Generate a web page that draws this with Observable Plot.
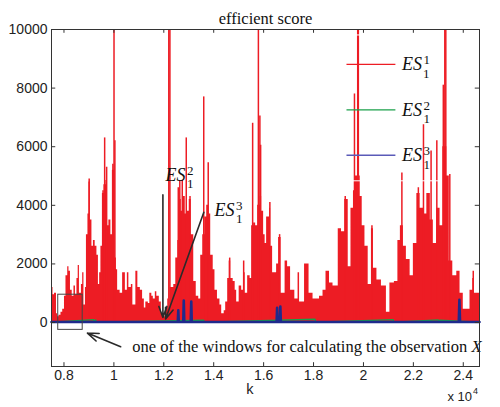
<!DOCTYPE html>
<html><head><meta charset="utf-8">
<script src="https://cdn.jsdelivr.net/npm/d3@7"></script>
<script src="https://cdn.jsdelivr.net/npm/@observablehq/plot@0.6"></script>
<style>body{margin:0;background:#fff}#chart svg{display:block}</style>
</head><body><div id="chart"></div>
<script>
// ES_1^1 envelope (k, value)
const envK = [7500,7560,7620,7700,7740,7800,7880,7950,8020,8080,
8150,8200,8260,8330,8400,8460,8520,8570,8620,8700,
8750,8800,8860,8900,8960,9000,9050,9120,9180,9250,
9320,9380,9430,9480,9540,9600,9680,9740,9800,9880,
9940,10040,10100,10150,10250,10350,10460,10540,10600,10700,
10760,10880,10960,11060,11150,11220,11280,11380,11440,11520,
11580,11660,11720,11820,11900,12000,12080,12150,12180,12260,
12400,12480,12560,12620,12700,12780,12860,12950,13020,13100,
13200,13300,13400,13480,13560,13640,13720,13800,13880,13980,
14050,14150,14250,14320,14420,14480,14560,14620,14680,14780,
14860,14920,15020,15120,15200,15260,15360,15460,15520,15600,
15680,15760,15860,15920,16000,16060,16120,16240,16280,16360,
16520,16600,16700,16860,16960,17080,17250,17380,17440,17640,
17820,17980,18240,18380,18500,18640,18780,18990,19120,19250,
19390,19500,19600,19680,19870,19950,20060,20190,20320,20400,
20540,20720,20920,21060,21240,21380,21480,21600,21720,21870,
22000,22140,22270,22430,22540,22680,22800,22940,23070,23180,
23340,23440,23580,23740,23870,24000,24270,24380,24420,24650];
const envV = [1200,950,1000,300,200,250,350,450,900,1600,
1900,1750,1100,900,1250,950,1500,1950,1000,1300,
1700,600,1200,3000,3700,4800,3500,2600,2800,2600,
2300,1300,1700,2600,4400,4700,4850,3300,3500,3000,
5200,2200,1800,1100,1000,1700,1100,1700,1200,1300,
600,1750,1200,1100,800,500,700,650,1000,900,
800,1050,900,700,300,200,450,800,500,1200,
1300,2200,2800,4200,3800,4300,3700,3800,4200,3000,
1400,900,800,2300,3000,3600,4000,3700,2300,1800,
1100,800,600,300,400,700,1500,2100,1500,1400,
1100,700,1250,1100,1700,1000,1600,1500,3300,3400,
3300,4000,4300,3800,3000,2700,3600,3900,2600,1700,
2000,2900,1000,2100,1900,1100,800,1700,700,2000,
1000,800,900,1100,1750,1350,1250,3200,3100,4200,
1900,3900,4500,5000,4300,3300,2600,1300,3200,1850,
1450,1250,350,1350,1400,2800,3300,2600,2150,1600,
2700,4400,3900,3700,4400,3500,2700,3900,3300,6000,
5000,2100,1600,1750,1000,450,1100,1500,1000,1000];
// ES_1^1 isolated spikes
const spikeK = [9010,9565,9630,9710,9960,10005,10040,12200,12245,12580,12640,12740,12900,13050,13600,13780,14640,15200,15560,15790,15850,15880,16250,16640,19270,19640,19770,19795,20340,21540,22200,22405,22710,22940,23200,23260,23300,23460,24400];
const spikeV = [4900,4500,6300,5300,5400,12000,6200,12000,12000,4600,4850,4850,6300,4300,7700,5450,2200,2100,6800,12000,7050,6050,4100,3000,4300,7800,12000,12000,3300,5100,4600,6750,5850,6200,8100,12000,12000,5050,1750];
// ES_1^2
const greenK = [7500,9190,9210,9270,9290,13600,13620,18060,18090,21190,21220,23000,23030,23060,24650];
const greenV = [10,100,10,90,10,80,10,110,10,100,10,90,10,80,10];
// ES_1^3
const blueK = [7500,12560,12580,12600,12780,12800,12820,13080,13100,13120,16520,16540,16560,16650,16670,16690,23820,23845,23870,24650];
const blueV = [20,20,420,20,20,750,20,20,720,20,20,500,20,20,550,20,20,780,20,20];

const xTicks = [8000,10000,12000,14000,16000,18000,20000,22000,24000];
const xTickLabels = ["0.8","1","1.2","1.4","1.6","1.8","2","2.2","2.4"];
const yTicks = [0,2000,4000,6000,8000,10000];
const seriesNames = ["ES","ES","ES"];
const seriesSup = ["1","2","3"];
const seriesSub = ["1","1","1"];
const seriesColors = ["#ed1c24","#1aa04a","#5a5ab8"];
const legendY = [8807,7259,5708];
const title = "efficient score";
const xLabel = "k";
const note = "one of the windows for calculating the observation ";
const noteVar = "X";

const env = envK.map((k,i)=>({k, v: envV[i]}));
const spikes = spikeK.map((k,i)=>({k, v: spikeV[i]}));
const green = greenK.map((k,i)=>({k, v: greenV[i]}));
const blue = blueK.map((k,i)=>({k, v: blueV[i]}));
const legend = seriesNames.map((n,i)=>({n, sup: seriesSup[i], sub: seriesSub[i], c: seriesColors[i], y: legendY[i]}));

const X0 = 7500, X1 = 24650, Y0 = -1500, Y1 = 10000;
const serif = "Liberation Serif, Times New Roman, serif";
const sans = "Liberation Sans, Arial, sans-serif";

const annot = [
  {k: 12072, v: 5035, n: "ES", sup: "2", sub: "1"},
  {k: 14032, v: 3840, n: "ES", sup: "3", sub: "1"}
];
const arrows = [
  {x1: 11964, y1: 4356, x2: 11964, y2: 174},
  {x1: 13604, y1: 3764, x2: 12072, y2: 120},
  {x1: 10272, y1: -827, x2: 8940, y2: -359}
];

const plot = Plot.plot({
  width: 500, height: 407,
  marginTop: 29, marginBottom: 41, marginLeft: 51, marginRight: 21,
  style: {fontFamily: sans, fontSize: "14px", color: "#222", background: "#fff"},
  x: {domain: [X0, X1]},
  y: {domain: [Y0, Y1]},
  marks: [
    Plot.areaY(env, {x: "k", y: "v", curve: "step-after", fill: "#ed1c24", clip: true}),
    Plot.ruleX(spikes, {x: "k", y1: 0, y2: "v", stroke: "#ed1c24", strokeWidth: 1.5, clip: true}),
    Plot.line(green, {x: "k", y: "v", stroke: "#1aa04a", strokeWidth: 1.4}),
    Plot.line(blue, {x: "k", y: "v", stroke: "#1f2a8c", strokeWidth: 2.6}),
    Plot.rect([0], {x1: 19072, x2: 23112, y1: 4820, y2: 9797, stroke: "#fff", fill: "none", strokeWidth: 1}),
    // legend
    Plot.ruleY(legend, {y: "y", x1: 19340, x2: 21300, stroke: "c", strokeWidth: 1.3}),
    Plot.text(legend, {x: 21540, y: "y", text: "n", textAnchor: "start", fontFamily: serif, fontSize: 18, fill: "#111", className: "eslegend"}),
    // annotations
    Plot.text(annot, {x: "k", y: "v", text: "n", textAnchor: "start", fontFamily: serif, fontSize: 18, fill: "#111", className: "esannot"}),
    Plot.arrow(arrows, {x1: "x1", y1: "y1", x2: "x2", y2: "y2", stroke: "#2a2a2a", strokeWidth: 1.6, headLength: 11, headAngle: 40}),
    Plot.rect([0], {x1: 7770, x2: 8750, y1: -250, y2: 950, stroke: "#444", fill: "none", strokeWidth: 1}),
    Plot.text([note], {x: 10740, y: -827, text: d => d, textAnchor: "start", fontFamily: serif, fontSize: 16.5, fill: "#111", className: "esnote"}),
    // ticks inward
    Plot.ruleX(xTicks, {x: d => d, y1: Y0, y2: Y0 + 130, stroke: "#333"}),
    Plot.ruleX(xTicks, {x: d => d, y1: Y1 - 130, y2: Y1, stroke: "#333"}),
    Plot.ruleY(yTicks, {y: d => d, x1: X0, x2: X0 + 170, stroke: "#333"}),
    Plot.ruleY(yTicks, {y: d => d, x1: X1 - 170, x2: X1, stroke: "#333"}),
    Plot.frame({stroke: "#333", strokeWidth: 1}),
    Plot.axisX(xTicks, {tickSize: 0, tickPadding: 4, tickFormat: (d, i) => xTickLabels[i], label: null, fontSize: 14}),
    Plot.axisY(yTicks, {tickSize: 0, tickPadding: 4, label: null, tickFormat: d => String(d), fontSize: 14}),
    Plot.text([xLabel], {x: 15452, frameAnchor: "bottom", dy: 27, text: d => d, fontFamily: sans, fontSize: 14.5, fill: "#222"}),
    Plot.text(["x 10"], {frameAnchor: "bottom-right", dx: -32, dy: 34, text: d => d, textAnchor: "start", fontFamily: sans, fontSize: 13, fill: "#222", className: "expo"}),
    Plot.text([title], {frameAnchor: "top", dy: -17.5, text: d => d, fontFamily: serif, fontSize: 16.5, fill: "#111"})
  ]
});
document.getElementById("chart").append(plot);

// rich text: italic base with stacked superscript / subscript
function esLabel(el, sup, sub) {
  const t = d3.select(el);
  const base = t.text();
  t.text(null);
  t.append("tspan").attr("font-style", "italic").text(base);
  t.append("tspan").attr("font-size", 13).attr("dx", 1.5).attr("dy", -6).text(sup);
  t.append("tspan").attr("font-size", 13).attr("dx", -6.5).attr("dy", 13.5).text(sub);
}
d3.select(plot).selectAll("g.eslegend text").each(function(_, i) { esLabel(this, seriesSup[i], seriesSub[i]); });
d3.select(plot).selectAll("g.esannot text").each(function(_, i) { esLabel(this, annot[i].sup, annot[i].sub); });
d3.select(plot).selectAll("g.esnote text").each(function() {
  d3.select(this).append("tspan").attr("font-style", "italic").text(noteVar);
});
d3.select(plot).selectAll("g.expo text").each(function() {
  d3.select(this).append("tspan").attr("font-size", 9).attr("dx", 1).attr("dy", -7).text("4");
});
</script>
</body></html>
